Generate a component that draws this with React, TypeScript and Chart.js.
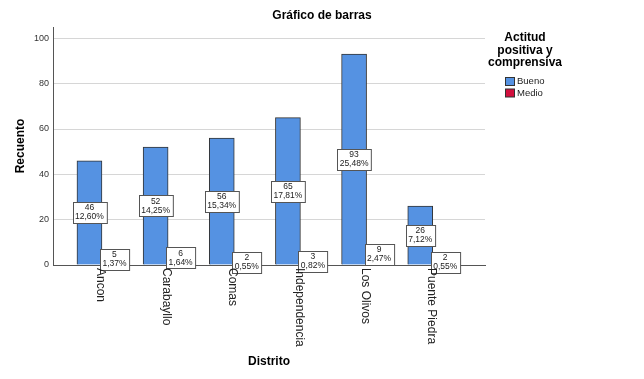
import React, { useEffect, useRef } from 'react';
import { Chart, registerables } from 'chart.js';
Chart.register(...registerables);

const FONT = '"Liberation Sans", Arial, Helvetica, sans-serif';

const categories = ['Ancon', 'Carabayllo', 'Comas', 'Independencia', 'Los Olivos', 'Puente Piedra'];
const bueno = [46, 52, 56, 65, 93, 26];
const medio = [5, 6, 2, 3, 9, 2];
const buenoPct = ['12,60%', '14,25%', '15,34%', '17,81%', '25,48%', '7,12%'];
const medioPct = ['1,37%', '1,64%', '0,55%', '0,82%', '2,47%', '0,55%'];
const yTicks = [0, 20, 40, 60, 80, 100];
const seriesNames = ['Bueno', 'Medio'];
const seriesColors = ['#5592e2', '#d2103e'];
const legendTitle = ['Actitud', 'positiva y', 'comprensiva'];
const chartTitle = 'Gráfico de barras';
const xTitle = 'Distrito';
const yTitle = 'Recuento';

export default function App() {
  const ref = useRef<HTMLCanvasElement>(null);

  useEffect(() => {
    document.body.style.margin = '0';
    const canvas = ref.current!;
    const pctLists = [buenoPct, medioPct];
    const valueLists = [bueno, medio];

    const labelPlugin = {
      id: 'boxLabels',
      afterDatasetsDraw(chart: any) {
        const ctx = chart.ctx;
        ctx.save();
        ctx.font = `8.5px ${FONT}`;
        ctx.textAlign = 'center';
        ctx.textBaseline = 'middle';
        chart.data.datasets.forEach((ds: any, di: number) => {
          const meta = chart.getDatasetMeta(di);
          meta.data.forEach((el: any, i: number) => {
            const p = el.getProps(['x', 'y', 'base'], true);
            const cy = (p.y + p.base) / 2;
            const l1 = String(valueLists[di][i]);
            const l2 = pctLists[di][i];
            const w = Math.max(ctx.measureText(l1).width, ctx.measureText(l2).width) + 5;
            const h = 21;
            const bx = Math.round(p.x - w / 2) + 0.5;
            const by = Math.round(cy - h / 2) + 0.5;
            ctx.fillStyle = '#ffffff';
            ctx.fillRect(bx, by, w, h);
            ctx.strokeStyle = '#555555';
            ctx.lineWidth = 1;
            ctx.strokeRect(bx, by, w, h);
            ctx.fillStyle = '#222222';
            ctx.fillText(l1, p.x, cy - 4.5);
            ctx.fillText(l2, p.x, cy + 4.5);
          });
        });
        ctx.restore();
      },
    };

    const textPlugin = {
      id: 'texts',
      afterDraw(chart: any) {
        const ctx = chart.ctx;
        const xs = chart.scales.x;
        const bottom = chart.chartArea.bottom;
        ctx.save();
        // chart title, centred on the full canvas
        ctx.font = `bold 12px ${FONT}`;
        ctx.fillStyle = '#000000';
        ctx.textAlign = 'center';
        ctx.textBaseline = 'middle';
        ctx.fillText(chartTitle, chart.width / 2, 16);
        // category labels, rotated to read top-to-bottom
        ctx.font = `12px ${FONT}`;
        ctx.fillStyle = '#222222';
        ctx.textAlign = 'left';
        categories.forEach((c, i) => {
          const x = xs.getPixelForValue(i) - 1.5;
          ctx.save();
          ctx.translate(x, bottom + 3);
          ctx.rotate(Math.PI / 2);
          ctx.fillText(c, 0, 0);
          ctx.restore();
        });
        // legend
        ctx.font = `bold 12px ${FONT}`;
        ctx.fillStyle = '#000000';
        ctx.textAlign = 'center';
        legendTitle.forEach((t, i) => ctx.fillText(t, 525, 38 + i * 12.5));
        ctx.font = `9.5px ${FONT}`;
        ctx.textAlign = 'left';
        chart.data.datasets.forEach((ds: any, i: number) => {
          const y = 77 + i * 11.5;
          ctx.fillStyle = ds.backgroundColor;
          ctx.fillRect(505.5, y + 0.5, 9, 8);
          ctx.strokeStyle = '#333333';
          ctx.lineWidth = 1;
          ctx.strokeRect(505.5, y + 0.5, 9, 8);
          ctx.fillStyle = '#222222';
          ctx.fillText(ds.label, 517, y + 4.5);
        });
        ctx.restore();
      },
    };

    const chart = new Chart(canvas, {
      type: 'bar',
      data: {
        datasets: [
          {
            label: seriesNames[0],
            data: bueno.map((v, i) => ({ x: i, y: v })),
            backgroundColor: seriesColors[0],
            borderColor: '#333333',
            borderWidth: 1,
            barThickness: 25,
          },
          {
            label: seriesNames[1],
            data: medio.map((v, i) => ({ x: i, y: v })),
            backgroundColor: seriesColors[1],
            borderColor: '#333333',
            borderWidth: 1,
            barThickness: 25,
          },
        ],
      } as any,
      options: {
        responsive: false,
        animation: false,
        font: { family: FONT },
        layout: { padding: { left: 0, right: 159, top: 27, bottom: 0 } },
        plugins: {
          legend: { display: false },
          tooltip: { enabled: false },
          title: { display: false },
        },
        scales: {
          x: {
            type: 'linear',
            min: -0.74,
            max: 5.79,
            offset: false,
            bounds: 'data',
            grid: { display: false, drawTicks: false, offset: false },
            border: { display: true, color: '#555555', width: 1 },
            ticks: { display: false, includeBounds: true },
            afterBuildTicks: (s: any) => {
              s.ticks = categories.map((_, i) => ({ value: i }));
            },
            afterFit: (s: any) => {
              s.height = 114;
            },
            title: {
              display: true,
              text: xTitle,
              color: '#000000',
              font: { family: FONT, size: 12, weight: 'bold' },
              padding: { top: 0, bottom: 10 },
            },
          },
          y: {
            min: 0,
            max: 105,
            ticks: {
              stepSize: 20,
              includeBounds: false,
              padding: 4,
              color: '#333333',
              font: { family: FONT, size: 9 },
            },
            afterBuildTicks: (s: any) => {
              s.ticks = yTicks.map((v) => ({ value: v }));
            },
            grid: { color: '#d6d6d6', drawTicks: false, lineWidth: 1 },
            border: { display: true, color: '#555555', width: 1 },
            afterFit: (s: any) => {
              s.width = 53;
            },
            title: {
              display: true,
              text: yTitle,
              color: '#000000',
              font: { family: FONT, size: 12, weight: 'bold' },
              padding: { top: 13, bottom: 0 },
            },
          },
        },
      } as any,
      plugins: [labelPlugin, textPlugin],
    });

    return () => chart.destroy();
  }, []);

  return (
    <div style={{ width: 644, height: 379 }}>
      <canvas ref={ref} width={644} height={379} style={{ display: 'block' }} />
    </div>
  );
}
